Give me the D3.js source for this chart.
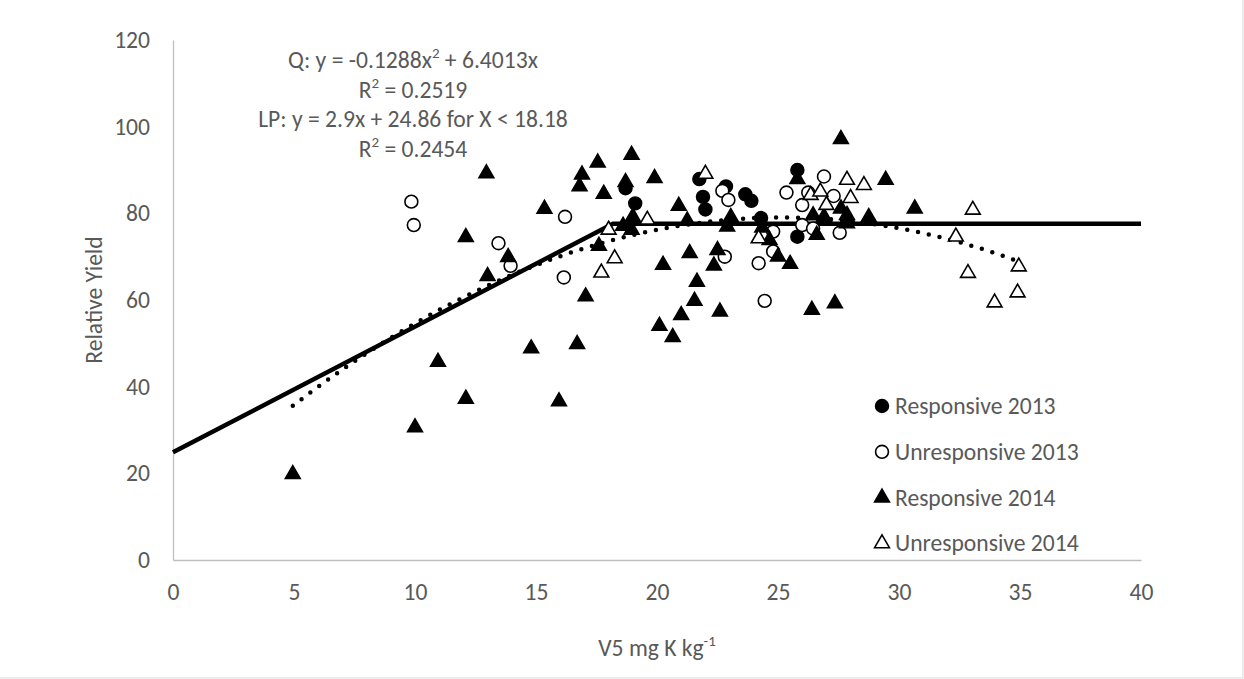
<!DOCTYPE html>
<html>
<head>
<meta charset="utf-8">
<script src="https://cdn.jsdelivr.net/npm/d3@7"></script>
<style>
  body { margin: 0; background: #fff; }
  text { font-family: Carlito, Calibri, Lato, sans-serif; fill: #595959; }
</style>
</head>
<body>
<div class="chart"></div>
<script>
// series: [V5 soil K, relative yield]
const responsive2013 = [
  [18.7, 85.8], [19.1, 82.3], [21.75, 87.9], [21.9, 83.8], [22.0, 80.9],
  [22.85, 86.2], [23.65, 84.4], [23.9, 82.9], [24.3, 78.9], [25.8, 90.0],
  [25.8, 74.6]
]
const unresponsive2013 = [
  [9.85, 82.7], [9.95, 77.3], [13.45, 73.1], [13.95, 67.9], [16.2, 79.2],
  [16.15, 65.2], [22.7, 85.2], [22.95, 83.1], [22.8, 70.0], [24.8, 75.8],
  [24.8, 71.2], [24.2, 68.5], [24.45, 59.8], [25.35, 84.8], [26.0, 81.9],
  [26.0, 77.3], [26.9, 88.5], [26.25, 84.8], [27.3, 84.0], [26.45, 76.5],
  [27.55, 75.5]
]
const responsive2014 = [
  [4.95, 19.8], [10.0, 30.6], [10.95, 45.7], [12.1, 37.2], [12.1, 74.5],
  [12.95, 89.2], [13.0, 65.5], [13.85, 69.9], [14.8, 48.8], [15.35, 81.0],
  [15.95, 36.6], [16.7, 49.8], [16.9, 88.9], [16.8, 86.2], [17.05, 60.8],
  [17.55, 91.7], [17.8, 84.5], [17.6, 72.5], [18.95, 93.5], [18.7, 87.2],
  [19.0, 79.2], [18.6, 77.1], [18.95, 76.2], [19.9, 88.1], [20.9, 81.7],
  [21.25, 78.3], [20.25, 68.1], [21.35, 70.8], [22.5, 71.5], [22.35, 67.9],
  [21.65, 64.2], [21.55, 59.8], [21.0, 56.5], [20.1, 54.0], [20.65, 51.4],
  [22.6, 57.3], [23.05, 79.1], [22.9, 76.9], [24.35, 76.7], [24.65, 73.8],
  [25.0, 70.0], [25.5, 68.3], [25.8, 87.9], [26.45, 79.5], [26.9, 79.2],
  [26.6, 75.0], [26.4, 57.7], [27.35, 59.2], [27.6, 97.1], [27.6, 81.1],
  [27.85, 79.6], [27.85, 77.7], [28.75, 79.1], [29.45, 87.7], [30.65, 81.1]
]
const unresponsive2014 = [
  [18.0, 76.2], [18.25, 69.6], [17.7, 66.3], [19.6, 78.5], [22.0, 89.1],
  [24.2, 74.2], [26.35, 84.2], [26.75, 85.0], [27.0, 81.9], [27.85, 87.7],
  [28.55, 86.5], [28.0, 83.5], [32.35, 74.6], [33.05, 80.8], [32.85, 66.2],
  [34.95, 67.7], [34.9, 61.7], [33.95, 59.4]
]

// linear-plateau model and the drawn quadratic trendline
const lpSlope = 2.9
const lpIntercept = 24.86
const lpJoin = 18.18
const lpEnd = 40
const quadCoef = [-0.1063, 5.351, 11.7]   // a, b, c as drawn
const quadRange = [4.95, 35]

const xTicks = [0, 5, 10, 15, 20, 25, 30, 35, 40]
const yTicks = [0, 20, 40, 60, 80, 100, 120]

const seriesNames = ['Responsive 2013', 'Unresponsive 2013', 'Responsive 2014', 'Unresponsive 2014']
const equationLines = [
  ['Q: y = -0.1288x', '2', ' + 6.4013x'],
  ['R', '2', ' = 0.2519'],
  ['LP: y = 2.9x + 24.86 for X < 18.18', '', ''],
  ['R', '2', ' = 0.2454']
]

const width = 1244
const height = 679
const fs = 23.6

const svg = d3.select('.chart')
  .append('svg')
  .attr('width', width)
  .attr('height', height)
  .attr('viewBox', `0 0 ${width} ${height}`)

svg.append('rect')
  .attr('x', -1).attr('y', -1)
  .attr('width', width).attr('height', height)
  .attr('fill', '#fff')
  .attr('stroke', '#d9d9d9')

const x = d3.scaleLinear().domain([0, 40]).range([173, 1141])
const y = d3.scaleLinear().domain([0, 120]).range([560, 40])

// axes
const xAxis = svg.append('g')
  .attr('transform', `translate(0,${y(0)})`)
  .call(d3.axisBottom(x).tickValues(xTicks).tickSize(0).tickSizeOuter(0).tickPadding(23))
const yAxis = svg.append('g')
  .attr('transform', `translate(${x(0)},0)`)
  .call(d3.axisLeft(y).tickValues(yTicks).tickSize(0).tickSizeOuter(0).tickPadding(23))

for (const ax of [xAxis, yAxis]) {
  ax.select('.domain').attr('stroke', '#bfbfbf').attr('stroke-width', 1.3)
  ax.selectAll('text')
    .attr('fill', '#595959')
    .style('font-size', fs + 'px')
    .style('font-family', 'Carlito, Calibri, Lato, sans-serif')
}

// axis titles
const xt = svg.append('text')
  .attr('x', 657)
  .attr('y', 656)
  .attr('text-anchor', 'middle')
  .style('font-size', fs + 'px')
xt.append('tspan').text('V5 mg K kg')
xt.append('tspan').attr('dy', -10).style('font-size', '15px').text('-1')

svg.append('text')
  .attr('transform', 'translate(102,300) rotate(-90)')
  .attr('text-anchor', 'middle')
  .style('font-size', fs + 'px')
  .text('Relative Yield')

// lines
const line = d3.line().x(d => x(d[0])).y(d => y(d[1]))

const lpTop = lpSlope * lpJoin + lpIntercept
svg.append('path')
  .attr('d', line([[0, lpIntercept], [lpJoin, lpTop], [lpEnd, lpTop]]))
  .attr('fill', 'none')
  .attr('stroke', '#000')
  .attr('stroke-width', 4.5)
  .attr('stroke-linejoin', 'round')

const quadPts = d3.range(quadRange[0], quadRange[1] + 0.001, 0.1)
  .map(v => [v, quadCoef[0] * v * v + quadCoef[1] * v + quadCoef[2]])
svg.append('path')
  .attr('d', line(quadPts))
  .attr('fill', 'none')
  .attr('stroke', '#000')
  .attr('stroke-width', 4.5)
  .attr('stroke-linecap', 'round')
  .attr('stroke-dasharray', '0 11')

// markers
const circle = d3.symbol().type(d3.symbolCircle).size(130)
const tri = d3.symbol().type(d3.symbolTriangle).size(95)
const markers = [
  { data: responsive2013, shape: circle, fill: '#000' },
  { data: unresponsive2013, shape: circle, fill: '#fff' },
  { data: responsive2014, shape: tri, fill: '#000' },
  { data: unresponsive2014, shape: tri, fill: '#fff' }
]

markers.forEach(m => {
  svg.append('g')
    .selectAll('path')
    .data(m.data)
    .join('path')
    .attr('d', m.shape)
    .attr('transform', d => `translate(${x(d[0])},${y(d[1])})`)
    .attr('fill', m.fill)
    .attr('stroke', '#000')
    .attr('stroke-width', 1.6)
})

// legend
const legend = svg.append('g').attr('transform', 'translate(882,406)')
seriesNames.forEach((name, i) => {
  const row = legend.append('g').attr('transform', `translate(0,${i * 45.8})`)
  row.append('path')
    .attr('d', markers[i].shape)
    .attr('fill', markers[i].fill)
    .attr('stroke', '#000')
    .attr('stroke-width', 1.6)
  row.append('text')
    .attr('x', 13)
    .attr('y', 8)
    .style('font-size', fs + 'px')
    .text(name)
})

// equation text
equationLines.forEach((parts, i) => {
  const t = svg.append('text')
    .attr('x', 413)
    .attr('y', 68 + i * 29.5)
    .attr('text-anchor', 'middle')
    .style('font-size', fs + 'px')
  t.append('tspan').text(parts[0])
  if (parts[1]) {
    t.append('tspan').attr('dy', -10).style('font-size', '15px').text(parts[1])
    t.append('tspan').attr('dy', 10).text(parts[2])
  }
})
</script>
</body>
</html>
